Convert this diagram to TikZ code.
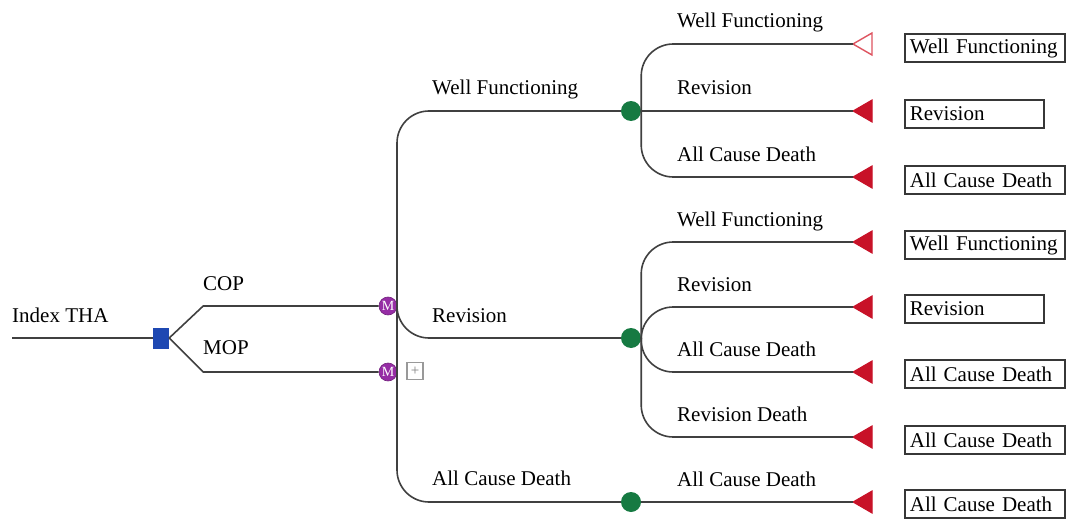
\documentclass[tikz,border=0pt]{standalone}
\usepackage{fontspec}
\setmainfont{Liberation Serif}

\definecolor{treegray}{RGB}{64,64,64}
\definecolor{boxgray}{RGB}{55,55,55}
\definecolor{decblue}{RGB}{30,72,178}
\definecolor{markovpurple}{RGB}{150,45,165}
\definecolor{chancegreen}{RGB}{22,122,66}
\definecolor{termred}{RGB}{200,18,40}
\definecolor{termpink}{RGB}{222,84,96}

\tikzset{
  branch/.style={draw=treegray, line width=1.6pt},
  curved/.style={branch, rounded corners=32pt},
  branchtext/.style={anchor=base west, inner sep=0pt, font=\fontsize{21}{24}\selectfont},
  decision/.style={rectangle, fill=decblue, minimum width=16pt, minimum height=21pt, inner sep=0pt},
  markov/.style={circle, fill=markovpurple, draw=markovpurple!75!black, line width=0.6pt,
    minimum size=18pt, inner sep=0pt, text=white, font=\fontsize{14}{14}\selectfont},
  chance/.style={circle, fill=chancegreen, minimum size=20pt, inner sep=0pt},
  plusbox/.style={draw=gray!80, line width=1.2pt, minimum width=16pt, minimum height=17pt,
    inner sep=0pt, text=gray, font=\fontsize{15}{15}\selectfont},
  outcome/.style={draw=boxgray, line width=1.8pt, anchor=west, minimum height=28pt,
    inner xsep=5pt, inner ysep=0pt, align=left, font=\fontsize{21}{24}\selectfont},
  full leaf/.style={draw=termred, fill=termred, line width=1pt, line join=miter},
  hollow leaf/.style={draw=termpink, fill=white, line width=1.4pt, line join=miter},
}

% terminal triangle: name, x, y, style
\newcommand{\leaf}[4]{
  \coordinate (#1) at (#2,#3);
  \draw[#4] (#1) -- ++(19,-11) -- ++(0,22) -- cycle;
}

\begin{document}
\begin{tikzpicture}[x=1pt, y=-1pt]
  \useasboundingbox (0,0) rectangle (1066,519);

  % --- Decision ---
  \coordinate (root) at (12,338);
  \node[decision] (dec) at (161,338) {};
  \node[branchtext] (l-root) at (12,322) {Index THA};

  % --- Markov nodes ---
  \node[markov] (cop) at (388,306) {M};
  \node[markov] (mop) at (388,372) {M};
  \node[plusbox] (mopplus) at (415,371) {+};
  \coordinate (msplit) at (397,306);

  \draw[branch] (root) -- (dec);
  \draw[branch] (dec.east) -- ++(34,-32) -- (cop);
  \draw[branch] (dec.east) -- ++(34,34) -- (mop);
  \node[branchtext] (l-cop) at (203,290) {COP};
  \node[branchtext] (l-mop) at (203,354) {MOP};

  % --- Markov states ---
  \node[chance] (wf) at (631,111) {};
  \node[chance] (rev) at (631,338) {};
  \node[chance] (acd) at (631,502) {};

  \draw[curved] (msplit) |- (wf);
  \draw[curved] (msplit) |- (rev);
  \draw[curved] (msplit) |- (acd);
  \node[branchtext] (l-wf) at (432,95) {Well Functioning};
  \node[branchtext] (l-rev) at (432,322) {Revision};
  \node[branchtext] (l-acd) at (432,485) {All Cause Death};

  % --- Well Functioning transitions ---
  \leaf{t11}{853}{44}{hollow leaf}
  \leaf{t12}{853}{111}{full leaf}
  \leaf{t13}{853}{177}{full leaf}
  \draw[curved] (wf.east) |- (t11);
  \draw[branch] (wf) -- (t12);
  \draw[curved] (wf.east) |- (t13);
  \node[branchtext] (l-t11) at (677,28) {Well Functioning};
  \node[branchtext] (l-t12) at (677,95) {Revision};
  \node[branchtext] (l-t13) at (677,161) {All Cause Death};

  % --- Revision transitions ---
  \leaf{t21}{853}{242}{full leaf}
  \leaf{t22}{853}{307}{full leaf}
  \leaf{t23}{853}{372}{full leaf}
  \leaf{t24}{853}{437}{full leaf}
  \draw[curved] (rev.east) |- (t21);
  \draw[curved] (rev.east) |- (t22);
  \draw[curved] (rev.east) |- (t23);
  \draw[curved] (rev.east) |- (t24);
  \node[branchtext] (l-t21) at (677,226) {Well Functioning};
  \node[branchtext] (l-t22) at (677,291) {Revision};
  \node[branchtext] (l-t23) at (677,356) {All Cause Death};
  \node[branchtext] (l-t24) at (677,421) {Revision Death};

  % --- All Cause Death transition ---
  \leaf{t31}{853}{502}{full leaf}
  \draw[branch] (acd) -- (t31);
  \node[branchtext] (l-t31) at (677,486) {All Cause Death};

  % --- Jump-to states ---
  \node[outcome, text width=150pt] (o11) at (904,48) {Well Functioning};
  \node[outcome, text width=129pt] (o12) at (904,114) {Revision};
  \node[outcome, text width=150pt] (o13) at (904,180) {All Cause Death};
  \node[outcome, text width=150pt] (o21) at (904,245) {Well Functioning};
  \node[outcome, text width=129pt] (o22) at (904,309) {Revision};
  \node[outcome, text width=150pt] (o23) at (904,374) {All Cause Death};
  \node[outcome, text width=150pt] (o24) at (904,440) {All Cause Death};
  \node[outcome, text width=150pt] (o31) at (904,504) {All Cause Death};

\end{tikzpicture}
\end{document}
